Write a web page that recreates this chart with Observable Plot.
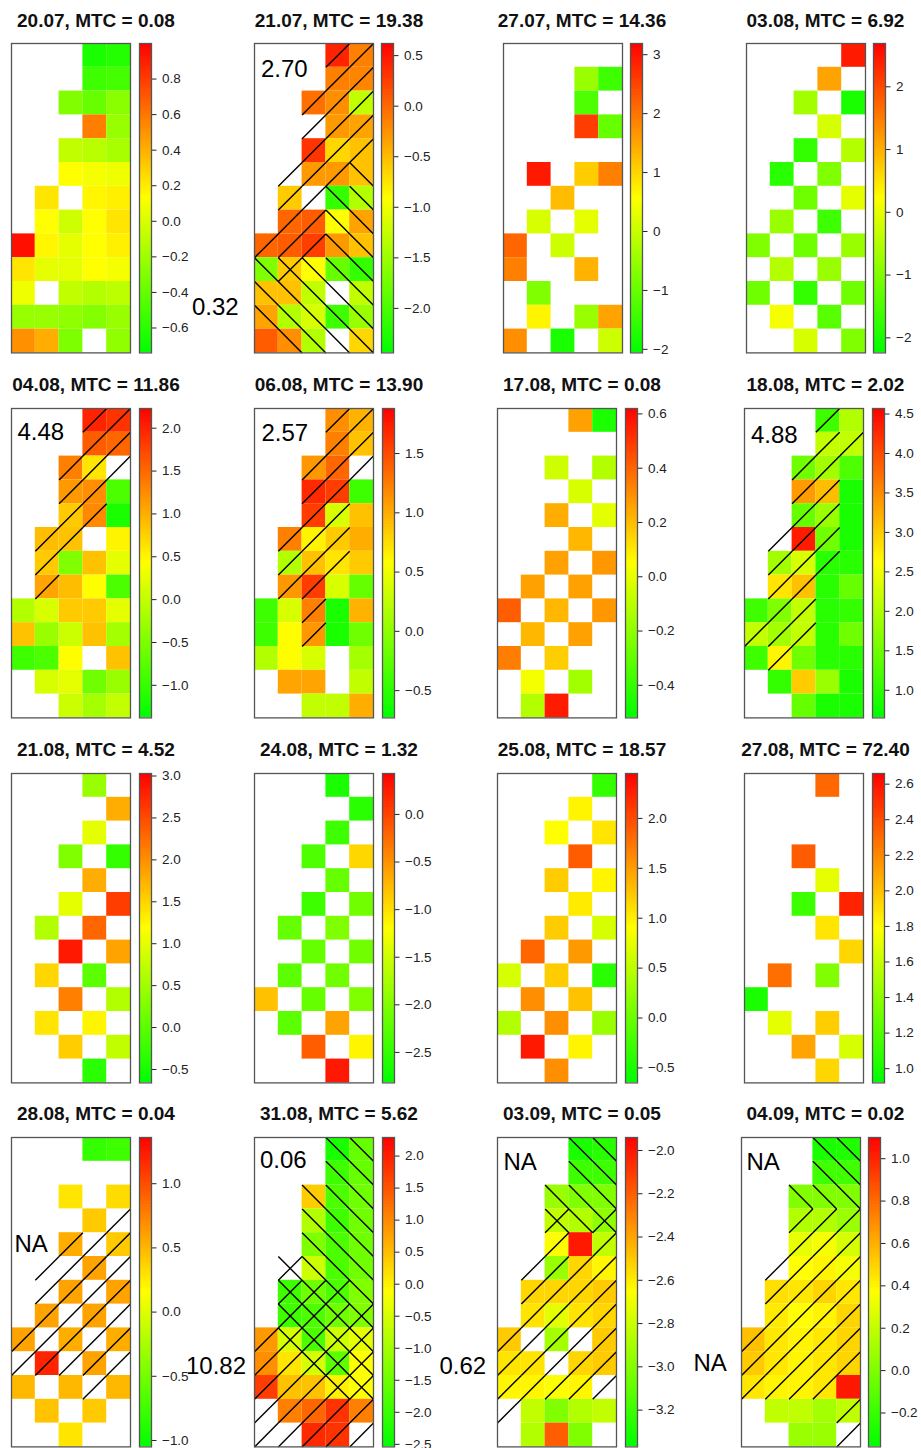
<!DOCTYPE html>
<html><head><meta charset="utf-8">
<script src="https://cdn.jsdelivr.net/npm/d3@7"></script>
<script src="https://cdn.jsdelivr.net/npm/@observablehq/plot@0.6"></script>
<style>
body{margin:0;background:#fff;}
#root{position:relative;width:921px;height:1448px;overflow:hidden;font-family:"Liberation Sans",Arial,Helvetica,sans-serif;}
.title{position:absolute;font-weight:bold;font-size:19px;white-space:nowrap;transform:translate(-50%,-50%);color:#111;line-height:1.15;}
.ann{position:absolute;font-size:24px;white-space:nowrap;transform:translateY(-50%);color:#000;line-height:1.15;}
.abs{position:absolute;width:90px;}
.abs svg{overflow:visible;max-width:none !important;}
</style></head><body><div id="root"></div>
<script>
// ---- panel metadata ----
const dates = ["20.07","21.07","27.07","03.08","04.08","06.08","17.08","18.08","21.08","24.08","25.08","27.08","28.08","31.08","03.09","04.09"];
const mtc = [0.08,19.38,14.36,6.92,11.86,13.90,0.08,2.02,4.52,1.32,18.57,72.40,0.04,5.62,0.05,0.02];
const rangeMin = [-0.74,-2.44,-2.06,-2.24,-1.38,-0.73,-0.52,0.65,-0.66,-2.82,-0.65,0.92,-1.05,-2.54,-3.37,-0.36];
const rangeMax = [1.00,0.62,3.19,2.69,2.23,1.88,0.62,4.57,3.03,0.43,2.45,2.66,1.36,2.29,-1.94,1.10];
const tickValues = [
  [-0.6,-0.4,-0.2,0,0.2,0.4,0.6,0.8],
  [-2,-1.5,-1,-0.5,0,0.5],
  [-2,-1,0,1,2,3],
  [-2,-1,0,1,2],
  [-1,-0.5,0,0.5,1,1.5,2],
  [-0.5,0,0.5,1,1.5],
  [-0.4,-0.2,0,0.2,0.4,0.6],
  [1,1.5,2,2.5,3,3.5,4,4.5],
  [-0.5,0,0.5,1,1.5,2,2.5,3],
  [-2.5,-2,-1.5,-1,-0.5,0],
  [-0.5,0,0.5,1,1.5,2],
  [1,1.2,1.4,1.6,1.8,2,2.2,2.4,2.6],
  [-1,-0.5,0,0.5,1],
  [-2.5,-2,-1.5,-1,-0.5,0,0.5,1,1.5,2],
  [-3.2,-3,-2.8,-2.6,-2.4,-2.2,-2],
  [-0.2,0,0.2,0.4,0.6,0.8,1]
];
const tickDecimals = [1,1,0,0,1,1,1,1,1,1,1,1,1,1,1,1];

// ---- cell values (13 rows x 5 columns, top row first; null = NA) ----
const v2007 = [
 [null,null,null,-0.65,-0.62],[null,null,null,-0.53,-0.51],[null,null,-0.30,-0.39,-0.27],
 [null,null,null,0.57,-0.22],[null,null,-0.08,-0.11,-0.17],[null,null,0.13,0.10,0.08],
 [null,0.22,null,0.16,0.18],[null,0.13,-0.04,0.13,0.22],[0.95,0.16,0.04,0.13,0.18],
 [0.22,0.04,0.04,0.13,0.10],[0.08,null,-0.08,-0.13,-0.10],[-0.22,-0.22,-0.25,-0.29,-0.22],
 [0.51,0.41,-0.31,null,-0.25]];
const v2107 = [
 [null,null,null,0.41,-0.15],[null,null,null,-0.15,-0.18],[null,null,-0.05,-0.24,-1.28],
 [null,null,null,-0.30,-0.36],[null,null,0.31,-0.67,-0.54],[null,null,-0.30,-0.30,-0.54],
 [null,-0.60,null,-2.13,-1.37],[null,0.01,0.07,-0.91,-0.36],[0.01,0.07,0.25,-0.30,-0.54],
 [-1.68,-0.60,-0.91,-1.83,-2.13],[-0.54,-0.54,-1.28,null,-1.28],[-0.36,-1.37,-1.15,-2.07,-1.52],
 [0.07,-0.24,-1.37,null,-0.67]];
const v2707 = [
 [null,null,null,null,null],[null,null,null,-0.49,-1.43],[null,null,null,-1.27,null],
 [null,null,null,2.56,-1.01],[null,null,null,null,null],[null,2.93,null,1.09,1.88],
 [null,null,1.25,null,null],[null,0.15,null,0.30,null],[2.14,null,0.04,null,null],
 [1.88,null,null,1.35,null],[null,-0.75,null,null,null],[null,0.67,null,-0.49,1.51],
 [1.72,null,-1.80,null,0.04]];
const v0308 = [
 [null,null,null,null,2.44],[null,null,null,1.11,null],[null,null,-0.66,null,-1.99],
 [null,null,null,-0.17,null],[null,null,-1.75,null,-0.51],[null,-1.85,null,-1.01,null],
 [null,null,-1.16,null,-0.02],[null,-0.76,null,-1.65,null],[-1.01,null,-1.16,null,-0.76],
 [null,-0.51,null,-0.76,null],[-1.16,null,-1.75,null,-1.16],[null,0.13,null,-1.40,null],
 [null,null,-0.17,null,-1.01]];
const v0408 = [
 [null,null,null,1.98,1.87],[null,null,null,1.58,1.51],[null,null,1.33,0.61,null],
 [null,null,1.15,1.22,-0.84],[null,null,0.79,1.26,-1.20],[null,0.89,0.86,null,0.50],
 [null,0.79,-0.48,0.86,0.24],[null,1.07,0.89,0.43,-0.84],[-0.12,0.14,0.79,0.79,0.24],
 [0.86,-0.30,0.06,0.86,-0.22],[-0.95,-0.84,0.43,null,0.86],[null,0.14,0.24,-0.59,-0.30],
 [null,null,0.06,-0.22,-0.01]];
const v0608 = [
 [null,null,null,1.15,0.97],[null,null,null,1.23,0.89],[null,null,1.10,1.36,null],
 [null,null,1.67,1.57,-0.42],[null,null,1.57,0.37,0.89],[null,1.23,0.63,0.84,0.99],
 [null,0.18,0.89,0.71,0.84],[null,1.10,1.57,0.37,-0.21],[-0.42,0.37,1.23,-0.60,0.97],
 [-0.42,0.58,1.10,-0.60,-0.16],[0.18,0.58,0.37,null,0.11],[null,1.04,1.04,null,0.26],
 [null,null,0.26,0.26,0.99]];
const v1708 = [
 [null,null,null,0.26,-0.46],[null,null,null,null,null],[null,null,-0.06,null,-0.12],
 [null,null,null,-0.04,null],[null,null,0.23,null,-0.01],[null,null,null,0.21,null],
 [null,null,0.26,null,0.28],[null,0.26,null,0.26,null],[0.41,null,0.21,null,0.28],
 [null,0.21,null,0.26,null],[0.34,null,0.16,null,null],[null,0.03,null,-0.16,null],
 [null,-0.12,0.56,null,null]];
const v1808 = [
 [null,null,null,1.12,2.02],[null,null,null,2.14,2.14],[null,null,1.51,1.90,1.24],
 [null,null,3.39,3.12,0.85],[null,null,1.43,1.83,0.85],[null,null,4.37,1.51,0.85],
 [null,1.90,2.30,0.96,0.96],[null,2.81,3.08,0.96,1.43],[1.12,1.63,2.14,0.96,1.04],
 [2.14,1.90,2.14,0.96,1.51],[1.12,2.69,1.51,0.96,0.96],[null,1.04,3.00,1.83,0.85],
 [null,null,1.43,0.85,0.85]];
const v2108 = [
 [null,null,null,0.45,null],[null,null,null,null,1.78],[null,null,null,1.00,null],
 [null,null,0.26,null,-0.29],[null,null,null,1.78,null],[null,null,1.00,null,2.59],
 [null,0.63,null,2.29,null],[null,null,2.85,null,1.85],[null,1.48,null,0.00,null],
 [null,null,2.11,null,0.63],[null,1.37,null,1.26,null],[null,null,1.55,null,0.74],
 [null,null,null,-0.36,null]];
const v2408 = [
 [null,null,null,-2.66,null],[null,null,null,null,-2.56],[null,null,null,-2.43,null],
 [null,null,-2.33,null,-0.94],[null,null,null,-2.17,null],[null,null,-2.43,null,-2.10],
 [null,-2.17,null,-2.01,null],[null,null,-2.17,null,-2.10],[null,-2.24,null,-2.10,null],
 [-0.80,null,-2.17,null,-2.01],[null,-2.24,null,-0.61,null],[null,null,-0.16,null,-1.13],
 [null,null,null,0.27,null]];
const v2508 = [
 [null,null,null,null,-0.34],[null,null,null,0.96,null],[null,null,0.90,null,1.06],
 [null,null,null,1.89,null],[null,null,1.21,null,0.96],[null,null,null,1.02,null],
 [null,null,1.21,null,0.65],[null,1.83,null,1.52,null],[0.65,null,1.21,null,-0.40],
 [null,1.58,null,1.27,null],[0.44,null,1.58,null,0.28],[null,2.30,null,0.96,null],
 [null,null,1.58,null,null]];
const v2708 = [
 [null,null,null,2.31,null],[null,null,null,null,null],[null,null,null,null,null],
 [null,null,2.35,null,null],[null,null,null,1.70,null],[null,null,1.13,null,2.54],
 [null,null,null,1.88,null],[null,null,null,null,1.93],[null,2.28,null,1.36,null],
 [1.01,null,null,null,null],[null,1.70,null,1.96,null],[null,null,2.10,null,1.65],
 [null,null,null,1.93,null]];
const v2808 = [
 [null,null,null,-0.81,-0.76],[null,null,null,null,null],[null,null,0.28,null,0.32],
 [null,null,null,0.40,null],[null,null,0.54,null,0.40],[null,null,null,0.59,null],
 [null,null,0.59,null,0.59],[null,0.59,null,0.59,null],[0.59,null,0.54,null,0.54],
 [null,1.19,null,0.59,null],[0.49,null,0.49,null,0.49],[null,0.44,null,0.40,null],
 [null,null,0.28,null,null]];
const v3108 = [
 [null,null,null,-2.30,-1.57],[null,null,null,-1.96,-1.57],[null,null,0.36,-1.82,-1.48],
 [null,null,-0.85,-1.96,-1.48],[null,null,-1.33,-1.82,-1.48],[null,null,-0.61,-1.82,-1.48],
 [null,-1.96,-1.48,-1.82,-1.33],[null,-1.96,-1.82,-1.48,-1.33],[0.84,-0.51,-1.82,-0.61,-0.37],
 [0.94,0.12,-0.51,-1.67,-0.13],[1.71,0.45,0.45,0.00,-0.13],[null,1.08,1.32,1.81,1.08],
 [null,null,1.90,1.81,null]];
const v0309 = [
 [null,null,null,-3.30,-3.26],[null,null,null,-3.20,-3.20],[null,null,-2.94,-3.01,-3.01],
 [null,null,-2.83,-2.87,-2.97],[null,null,-2.66,-2.01,-2.83],[null,null,-2.94,-2.54,-2.63],
 [null,-2.54,-2.54,-2.54,-2.51],[null,-2.58,-2.73,-2.58,-2.54],[-2.51,null,-2.91,null,-2.51],
 [-2.58,-2.58,null,-2.54,-2.51],[-2.63,-2.63,-2.66,-2.63,null],[null,-2.83,-3.01,-2.87,-2.83],
 [null,-2.87,-2.20,-3.01,null]];
const v0409 = [
 [null,null,null,-0.29,-0.27],[null,null,null,-0.18,-0.18],[null,null,0.01,0.01,0.01],
 [null,null,0.15,0.15,0.08],[null,null,0.30,0.34,0.25],[null,null,0.37,0.40,0.34],
 [null,0.46,0.44,0.49,0.44],[null,0.43,0.37,0.40,0.49],[0.55,0.44,0.40,0.44,0.49],
 [0.52,0.44,0.40,0.44,0.49],[0.44,0.40,0.40,0.44,1.03],[null,0.19,0.19,0.11,0.19],
 [null,null,0.08,0.08,null]];
const panelValues = [v2007,v2107,v2707,v0308,v0408,v0608,v1708,v1808,v2108,v2408,v2508,v2708,v2808,v3108,v0309,v0409];

// ---- significance hatching per cell: "/" forward, "b" backward, "x" both, "." none ----
const h2107 = ["...//","...//","..///","..///","..///",".///b",".//bb",".//bb","///bb","bxbbb","bbbbb","bbbbb",".bbbb"];
const h0408 = ["...//","...//","..///","..//.","..//.",".//..","./...","./...",".....",".....",".....",".....","....."];
const h0608 = ["...//","...//","..///","..//.","..//.",".///.",".///.",".//..","../..","../..",".....",".....","....."];
const h1808 = [".../.","...//","..//.","..//.","..//.",".///.",".///.",".//..",".//..","///..","./...",".....","....."];
const h2808 = [".....",".....",".....","..../","..///",".////",".////",".////","/////","/////",".../.",".....","....."];
const h3108 = ["...bb","...bb","..bbb","..bbb","..bbb",".xbbb",".xxxb",".xxxx","/xxxx","//xxx","///xx","/////","/////"];
const h0309 = ["...bb","...bb","..bbb","..xbx",".././",".////",".////",".////","/////","/////","/////","/....","....."];
const h0409 = ["...bb","...bb","..bbb","..///","..///",".////",".////",".////","/////","/////","////.","..../","..../"];
const panelHatch = [null,h2107,null,null,h0408,h0608,null,h1808,null,null,null,null,h2808,h3108,h0309,h0409];

// ---- free-standing numeric annotations ----
const annText = ["0.32","2.70","4.48","2.57","4.88","NA","0.06","10.82","NA","0.62","NA","NA"];
const annX = [192,261,17.5,261.5,751,14.5,260,186,503.5,439.5,746.5,693.5];
const annY = [307,68.7,431.7,433,434.7,1243.7,1160.3,1365.8,1162,1366,1162,1362.5];

// ---- layout ----
const panelLeft = [11,253.7,502.7,745.7, 11,254,497.3,744.3, 11,254,497.3,744.3, 11,254,497.3,740.7];
const rowTop = [42.7,407.7,772.7,1137.3];
const titleCenter = [96,339,582,825.5];
const titleY = [21,384.7,749.7,1114.3];
const cellW = 23.8, nRow = 13, nCol = 5;

const root = document.getElementById("root");
const fmtMinus = s => s.replace("-", "\u2212");

for (let i = 0; i < 16; i++) {
  const row = Math.floor(i / 4), col = i % 4;
  const L = panelLeft[i], T = rowTop[row];
  const lo = rangeMin[i], hi = rangeMax[i];
  const colorOpts = {type: "linear", domain: [lo, (lo + hi) / 2, hi], range: ["#00ff00", "#ffff00", "#ff0000"], interpolate: "rgb", clamp: true};

  // title
  const t = document.createElement("div");
  t.className = "title";
  t.style.left = titleCenter[col] + "px";
  t.style.top = titleY[row] + "px";
  t.textContent = `${dates[i]}, MTC = ${mtc[i].toFixed(2)}`;
  root.appendChild(t);

  // cells
  const cells = [];
  panelValues[i].forEach((r, ri) => r.forEach((v, ci) => { if (v !== null) cells.push({r: ri + 1, c: ci + 1, v}); }));
  const hatch = [];
  if (panelHatch[i]) panelHatch[i].forEach((s, ri) => {
    for (let ci = 0; ci < nCol; ci++) {
      const ch = s[ci], r = ri + 1, c = ci + 1;
      if (ch === "/" || ch === "x") hatch.push({x1: c - 1, y1: r, x2: c, y2: r - 1});
      if (ch === "b" || ch === "x") hatch.push({x1: c - 1, y1: r - 1, x2: c, y2: r});
    }
  });
  const W = cellW * nCol, H = cellW * nRow;
  const heat = Plot.plot({
    width: W + 2, height: H + 2, margin: 1,
    x: {domain: [0, nCol], axis: null},
    y: {domain: [nRow, 0], axis: null},
    color: colorOpts,
    style: {background: "transparent", maxWidth: "none"},
    marks: [
      Plot.rect(cells, {x1: d => d.c - 1, x2: d => d.c, y1: d => d.r - 1, y2: d => d.r, fill: "v"}),
      Plot.link(hatch, {x1: "x1", y1: "y1", x2: "x2", y2: "y2", stroke: "#000", strokeWidth: 1.4}),
      Plot.frame({stroke: "#555", strokeWidth: 1.3})
    ]
  });
  const hd = document.createElement("div");
  hd.className = "abs";
  hd.style.width = (W + 2) + "px";
  hd.style.left = (L - 1) + "px"; hd.style.top = (T - 1) + "px";
  hd.appendChild(heat);
  root.appendChild(hd);

  // colour bar legend
  const n = 120;
  const slices = d3.range(n).map(k => ({a: lo + (hi - lo) * k / n, b: lo + (hi - lo) * (k + 1) / n}));
  const dec = tickDecimals[i];
  const leg = Plot.plot({
    width: 12 + 2 + 60, height: H + 2,
    marginLeft: 1, marginTop: 1, marginBottom: 1, marginRight: 61,
    x: {domain: [0, 1], axis: null},
    y: {domain: [lo, hi], axis: "right", ticks: tickValues[i], tickSize: 4.5, tickPadding: 6,
        tickFormat: d => fmtMinus(d3.format(`.${dec}f`)(d)), label: null},
    color: colorOpts,
    style: {fontSize: "13.5px", fontFamily: '"Liberation Sans", Arial, sans-serif', color: "#222", background: "transparent", maxWidth: "none"},
    marks: [
      Plot.rect(slices, {x1: 0, x2: 1, y1: "a", y2: "b", fill: d => (d.a + d.b) / 2, shapeRendering: "crispEdges"}),
      Plot.frame({stroke: "#555", strokeWidth: 1.3})
    ]
  });
  const ld = document.createElement("div");
  ld.className = "abs";
  ld.style.width = "74px";
  ld.style.left = (L + 127.5 - 1) + "px"; ld.style.top = (T - 1) + "px";
  ld.appendChild(leg);
  root.appendChild(ld);
}

// annotations
annText.forEach((s, k) => {
  const a = document.createElement("div");
  a.className = "ann";
  a.style.left = annX[k] + "px";
  a.style.top = annY[k] + "px";
  a.textContent = s;
  root.appendChild(a);
});
</script>
</body></html>
